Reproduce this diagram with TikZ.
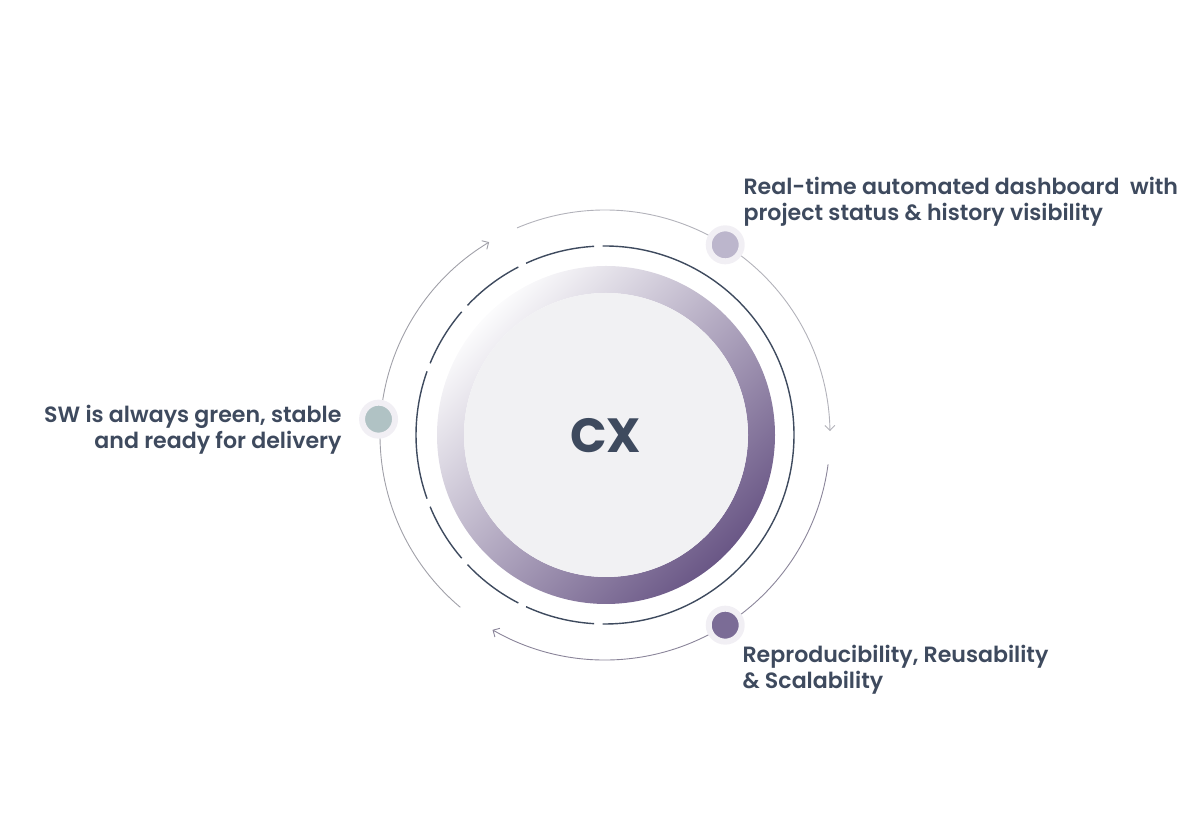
\documentclass[tikz,border=0pt]{standalone}
\usepackage{fontspec}
\setmainfont{Poppins}[BoldFont={Poppins SemiBold}]
\newfontfamily\cxfont{Poppins Bold}
\usetikzlibrary{positioning,arrows.meta}

\definecolor{ink}{HTML}{3E4A5E}
\definecolor{halo}{HTML}{F1EFF4}
\definecolor{dotdash}{HTML}{BCB6CC}
\definecolor{dotrepro}{HTML}{7B6C96}
\definecolor{dotgreen}{HTML}{B0C2C4}
\definecolor{loopa}{HTML}{B2B2BA}
\definecolor{loopb}{HTML}{8A8499}
\definecolor{loopc}{HTML}{A0A0A8}
\definecolor{ringlight}{HTML}{FBFBFC}
\definecolor{ringmid}{HTML}{D0CFD4}
\definecolor{ringdark}{HTML}{6A5786}
\definecolor{disc}{HTML}{F1F1F3}

\begin{document}
\begin{tikzpicture}[x=1pt,y=1pt,
	>={Straight Barb[length=5pt,width=10pt]},
	dot/.style={circle, minimum size=33pt, inner sep=0pt, draw=halo, line width=6pt},
	lbl/.style={text=ink, font=\fontsize{22.1}{26}\selectfont\bfseries},
	ring/.style={draw=ink, line width=1.4pt},
	loop/.style={->, line width=0.9pt}
	]
	\useasboundingbox (0,0) rectangle (1200,829);
	\coordinate (c) at (605,394);
	
	% outer loop arcs
	\draw[loop, loopa] ([shift={(113:225)}]c) arc[start angle=113, end angle=1, radius=225];
	\draw[loop, loopb] ([shift={(-7.5:225)}]c) arc[start angle=-7.5, end angle=-120, radius=225];
	\draw[loop, loopc] ([shift={(230:225)}]c) arc[start angle=230, end angle=121, radius=225];
	
	% dashed ring
	\foreach \a/\b in {93.3/114.7, 117.3/136.7, 139.3/157.7, 160.3/199.7, 202.3/220.7, 223.3/242.7, 245.3/266.7, 269.3/450.7}
	\draw[ring] ([shift={(\a:189)}]c) arc[start angle=\a, end angle=\b, radius=189];
	
	% shaded ring and disc
	\shade[even odd rule, top color=ringlight, middle color=ringmid, bottom color=ringdark, shading angle=45]
	(606,394) circle (169) (606,394) circle (142);
	\fill[disc] (606,394) circle (142);
	\node[text=ink, font=\fontsize{48}{48}\cxfont, anchor=base] (cx) at (605.5,376) {CX};
	
	% dots
	\node[dot, fill=dotdash] (dash) at ([shift={(57.7:225)}]c) {};
	\node[dot, fill=dotrepro] (repro) at ([shift={(-57.7:225)}]c) {};
	\node[dot, fill=dotgreen] (green) at ([shift={(176:227)}]c) {};
	
	% labels
	\node[lbl, anchor=base west, align=left] (dashtxt) at (740,608) {Real-time automated dashboard~~with\\project status \& history visibility};
	\node[lbl, anchor=base east, align=right] (greentxt) at (345,380) {SW is always green, stable\\and ready for delivery};
	\node[lbl, anchor=base west, align=left] (reprotxt) at (739,140) {Reproducibility, Reusability\\\& Scalability};
	
\end{tikzpicture}
\end{document}
